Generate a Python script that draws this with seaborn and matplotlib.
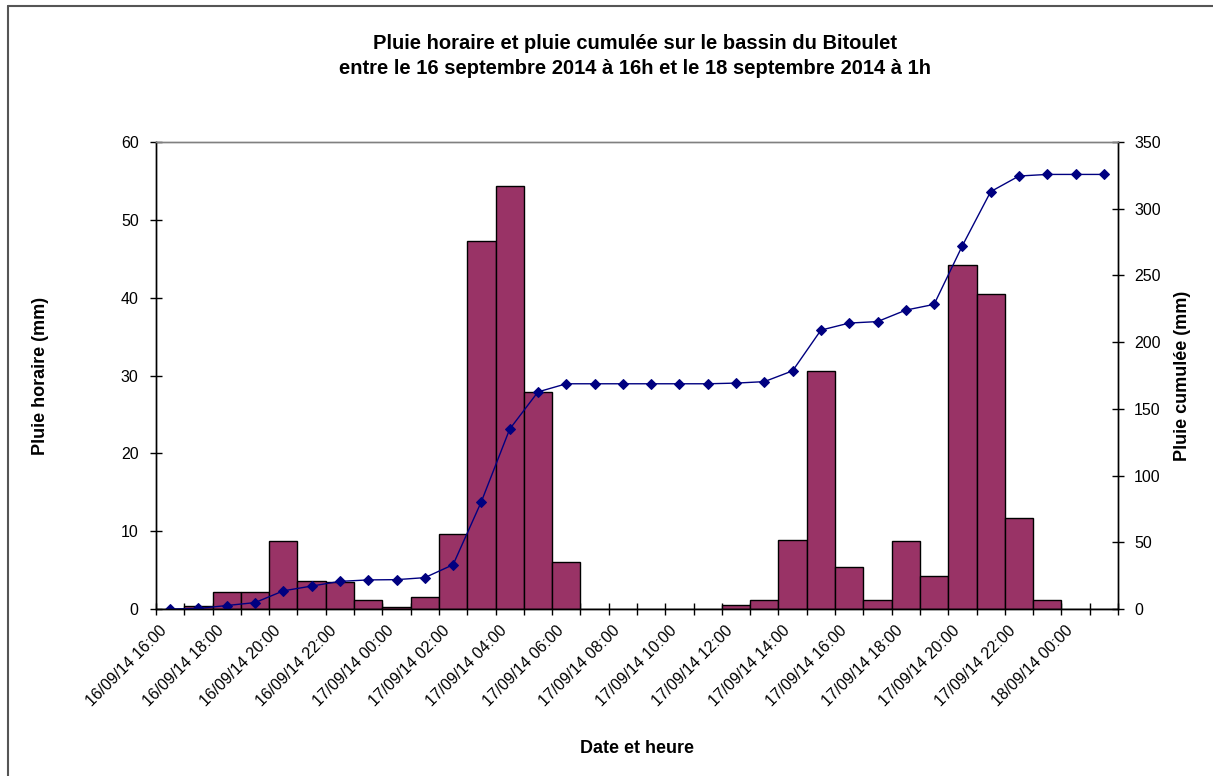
import matplotlib
matplotlib.use('Agg')
import matplotlib.pyplot as plt
from matplotlib.lines import Line2D
import numpy as np
import pandas as pd
import seaborn as sns

# hourly timestamps, 16/09/14 16:00 -> 18/09/14 01:00
heures = (
    [f'16/09/14 {h:02d}:00' for h in range(16, 24)]
    + [f'17/09/14 {h:02d}:00' for h in range(0, 24)]
    + [f'18/09/14 {h:02d}:00' for h in range(0, 2)]
)

# hourly rain (mm)
pluie_horaire = [0.0, 0.4, 2.2, 2.2, 8.8, 3.6, 3.5, 1.1, 0.2, 1.5,
                 9.7, 47.3, 54.3, 27.9, 6.1, 0.0, 0.0, 0.0, 0.0, 0.0,
                 0.5, 1.1, 8.9, 30.6, 5.4, 1.1, 8.7, 4.3, 44.2, 40.5,
                 11.7, 1.2, 0.0, 0.0]

# cumulative rain (mm)
pluie_cumulee = [0.0, 0.4, 2.6, 4.8, 13.6, 17.2, 20.7, 21.8, 22.0, 23.5,
                 33.2, 80.5, 134.8, 162.7, 168.8, 168.8, 168.8, 168.8, 168.8, 168.8,
                 169.3, 170.4, 178.5, 209.0, 214.3, 215.4, 224.0, 228.3, 272.3, 312.8,
                 324.5, 325.7, 325.7, 325.7]

df = pd.DataFrame({'heure': heures, 'pluie': pluie_horaire, 'cumul': pluie_cumulee})

sns.set_style('white')
plt.rcParams['font.family'] = ['Liberation Sans', 'DejaVu Sans']
plt.rcParams['text.color'] = 'black'
plt.rcParams['axes.labelcolor'] = 'black'
plt.rcParams['xtick.color'] = 'black'
plt.rcParams['ytick.color'] = 'black'

fig = plt.figure(figsize=(12.13, 7.76), dpi=100)
ax = fig.add_axes([156 / 1213, 1 - 609 / 776, (1118 - 156) / 1213, (609 - 142) / 776])

sns.barplot(data=df, x='heure', y='pluie', ax=ax, color='#993366', saturation=1,
            edgecolor='black', linewidth=1, width=1.0)

ax2 = ax.twinx()
sns.lineplot(x=np.arange(len(df)), y=df['cumul'].values, ax=ax2, color='#000080',
             marker='D', markersize=5.5, markeredgecolor='#000080', linewidth=1)

n = len(df)
ax.set_xlim(-0.5, n - 0.5)
ax.set_ylim(0, 60)
ax2.set_ylim(0, 350)
ax.set_yticks(range(0, 61, 10))
ax2.set_yticks(range(0, 351, 50))

ax.set_xticks(range(0, n, 2))
ax.set_xticklabels(heures[::2], rotation=45, ha='right', fontsize=11.5)
ax.set_xticks(np.arange(-0.5, n, 1), minor=True)
ax.tick_params(axis='x', which='major', length=0, pad=10)
ax.tick_params(axis='x', which='minor', direction='inout', length=8, width=1, color='black', bottom=True)
ax.tick_params(axis='y', direction='inout', length=9, width=1, color='black', left=True, labelsize=11.5, pad=8)
ax2.tick_params(axis='y', direction='inout', length=9, width=1, color='black', right=True, labelsize=11.5, pad=7)

for a in (ax, ax2):
    for side in ('left', 'bottom', 'right'):
        a.spines[side].set_color('black')
        a.spines[side].set_linewidth(1)
    a.spines['top'].set_color('#808080')
    a.spines['top'].set_linewidth(1)

ax.set_xlabel('Date et heure', fontsize=13, fontweight='bold', labelpad=22)
ax.set_ylabel('Pluie horaire (mm)', fontsize=13, fontweight='bold', labelpad=52)
ax2.set_ylabel('Pluie cumulée (mm)', fontsize=13, fontweight='bold', labelpad=10)

fig.text(635 / 1213, 1 - 56 / 776,
         'Pluie horaire et pluie cumulée sur le bassin du Bitoulet\n'
         'entre le 16 septembre 2014 à 16h et le 18 septembre 2014 à 1h',
         ha='center', va='center', fontsize=14.5, fontweight='bold', linespacing=1.45)

# chart frame (left and top edges visible in the original)
fig.add_artist(Line2D([8 / 1213, 8 / 1213], [0, 1 - 5.5 / 776], transform=fig.transFigure,
                      color='#555555', linewidth=1.5))
fig.add_artist(Line2D([8 / 1213, 1], [1 - 5.5 / 776, 1 - 5.5 / 776], transform=fig.transFigure,
                      color='#555555', linewidth=1.5))

plt.savefig('out.png', dpi=100)
